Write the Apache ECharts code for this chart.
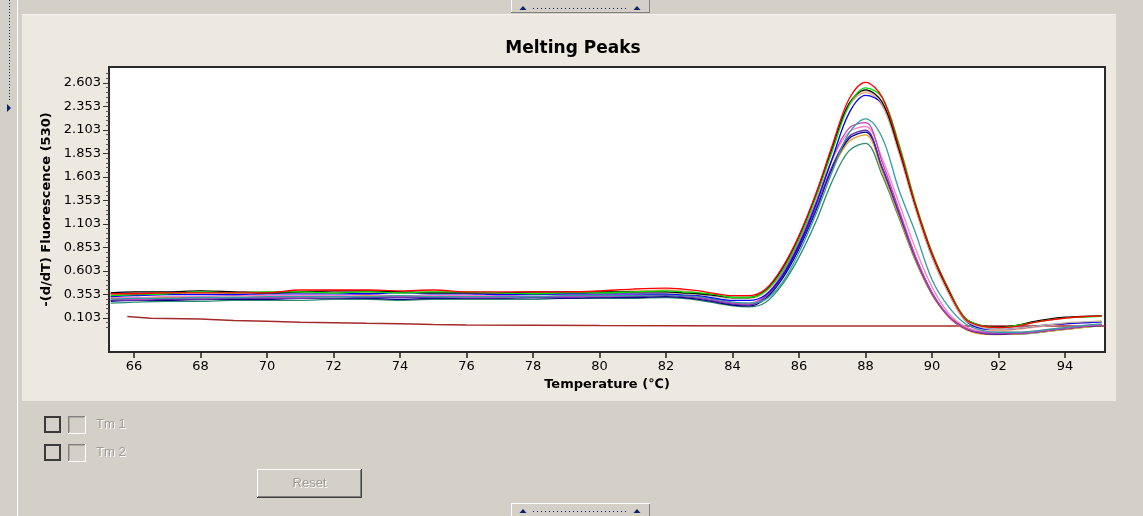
<!DOCTYPE html>
<html>
<head>
<meta charset="utf-8">
<title>Melting Peaks</title>
<script src="https://cdn.jsdelivr.net/npm/echarts@6/dist/echarts.min.js"></script>
<style>
  html, body { margin: 0; padding: 0; background: #D4D0C8; }
  #chart { width: 1143px; height: 516px; }
</style>
</head>
<body>
<div id="chart"></div>
<script>
// Temperature grid (°C) shared by the sample curves
const temps = [65.3,66,67,68,69,70,71,72,73,74,75,76,77,78,79,80,81,82,
  82.5,83,83.5,84,84.5,
  85,85.5,86,86.5,87,87.5,88,88.5,89,89.5,90,90.5,91,91.5,
  92,92.5,93,93.5,94,94.5,95.1];

// -(d/dT) fluorescence per sample
const sRed = [0.36,0.36,0.37,0.37,0.37,0.37,0.40,0.40,0.40,0.39,0.40,0.38,0.38,0.38,0.38,0.39,0.41,0.42,
  0.41,0.39,0.36,0.34,0.34,
  0.41,0.64,0.98,1.42,1.94,2.43,2.61,2.45,1.93,1.31,0.79,0.40,0.09,0.015,
  0.00,0.01,0.05,0.08,0.10,0.115,0.125];
const sGreen = [0.34,0.35,0.36,0.38,0.37,0.38,0.38,0.37,0.38,0.37,0.38,0.38,0.37,0.36,0.37,0.37,0.38,0.39,
  0.38,0.37,0.35,0.32,0.32,
  0.39,0.60,0.94,1.38,1.88,2.36,2.55,2.45,1.96,1.33,0.80,0.41,0.10,0.02,
  0.00,0.02,0.05,0.08,0.10,0.11,0.12];
const sBlack = [0.37,0.38,0.38,0.39,0.38,0.37,0.38,0.39,0.39,0.38,0.37,0.37,0.37,0.38,0.38,0.38,0.38,0.38,
  0.37,0.36,0.34,0.32,0.32,
  0.40,0.63,0.97,1.40,1.91,2.38,2.53,2.40,1.90,1.30,0.78,0.39,0.10,0.02,
  0.005,0.02,0.06,0.09,0.11,0.12,0.125];
const sTan = [0.35,0.36,0.37,0.37,0.37,0.37,0.37,0.37,0.38,0.37,0.37,0.37,0.37,0.37,0.38,0.37,0.37,0.37,
  0.36,0.35,0.33,0.31,0.32,
  0.41,0.64,0.98,1.42,1.92,2.38,2.52,2.38,1.87,1.27,0.75,0.37,0.08,0.00,
  -0.02,-0.01,0.01,0.03,0.05,0.06,0.07];
const sBlue = [0.33,0.34,0.35,0.35,0.35,0.36,0.36,0.36,0.36,0.37,0.36,0.36,0.35,0.35,0.36,0.36,0.36,0.36,
  0.35,0.34,0.31,0.29,0.29,
  0.35,0.55,0.88,1.30,1.80,2.28,2.47,2.38,1.90,1.29,0.77,0.38,0.08,-0.01,
  -0.02,-0.01,0.01,0.03,0.04,0.05,0.06];
const sSalmon = [0.36,0.37,0.37,0.37,0.38,0.38,0.38,0.38,0.37,0.38,0.38,0.37,0.37,0.37,0.37,0.38,0.39,0.40,
  0.39,0.37,0.34,0.31,0.31,
  0.38,0.61,0.95,1.38,1.89,2.36,2.50,2.36,1.86,1.26,0.74,0.36,0.07,-0.01,
  -0.03,-0.02,0.00,0.02,0.04,0.05,0.06];
const sTeal = [0.30,0.31,0.31,0.32,0.32,0.33,0.33,0.33,0.33,0.34,0.33,0.33,0.33,0.33,0.34,0.34,0.34,0.35,
  0.34,0.33,0.30,0.27,0.26,
  0.30,0.48,0.80,1.20,1.66,2.07,2.22,2.02,1.47,1.01,0.51,0.22,0.04,-0.03,
  -0.05,-0.05,-0.04,-0.02,0.00,0.02,0.04];
const sMagenta = [0.30,0.30,0.31,0.31,0.32,0.32,0.32,0.33,0.33,0.33,0.33,0.32,0.32,0.33,0.33,0.33,0.34,0.35,
  0.34,0.32,0.29,0.26,0.25,
  0.34,0.57,0.90,1.32,1.80,2.12,2.18,1.76,1.26,0.76,0.37,0.12,-0.01,-0.05,
  -0.06,-0.06,-0.05,-0.03,-0.01,0.01,0.03];
const sPurple = [0.29,0.29,0.30,0.30,0.31,0.31,0.31,0.31,0.32,0.32,0.32,0.32,0.32,0.32,0.32,0.33,0.33,0.34,
  0.33,0.31,0.28,0.25,0.24,
  0.33,0.55,0.86,1.26,1.72,2.03,2.10,1.70,1.22,0.74,0.36,0.12,-0.01,-0.06,
  -0.07,-0.065,-0.05,-0.03,-0.01,0.01,0.03];
const sNavy = [0.28,0.29,0.29,0.30,0.30,0.30,0.31,0.31,0.31,0.30,0.31,0.31,0.31,0.32,0.31,0.32,0.32,0.33,
  0.32,0.30,0.27,0.24,0.23,
  0.31,0.52,0.84,1.24,1.70,2.01,2.08,1.70,1.23,0.75,0.37,0.12,-0.01,-0.06,
  -0.07,-0.06,-0.05,-0.03,-0.01,0.01,0.02];
const sOrange = [0.31,0.31,0.32,0.32,0.32,0.32,0.33,0.33,0.34,0.33,0.33,0.34,0.33,0.33,0.33,0.33,0.34,0.35,
  0.34,0.32,0.29,0.26,0.25,
  0.32,0.54,0.85,1.24,1.68,1.98,2.05,1.66,1.19,0.72,0.35,0.11,-0.02,-0.07,
  -0.075,-0.07,-0.055,-0.04,-0.02,0.00,0.02];
const sPink = [0.32,0.32,0.33,0.33,0.34,0.34,0.34,0.34,0.35,0.34,0.34,0.34,0.34,0.35,0.35,0.35,0.35,0.36,
  0.35,0.33,0.30,0.27,0.26,
  0.35,0.58,0.91,1.33,1.79,2.08,2.14,1.80,1.33,0.84,0.43,0.15,0.01,-0.04,
  -0.05,-0.05,-0.04,-0.02,0.00,0.02,0.03];
const sDarkTeal = [0.26,0.27,0.28,0.28,0.29,0.29,0.29,0.30,0.30,0.29,0.30,0.30,0.30,0.30,0.31,0.31,0.31,0.32,
  0.31,0.29,0.26,0.23,0.22,
  0.27,0.46,0.75,1.12,1.56,1.88,1.96,1.62,1.17,0.71,0.35,0.12,0.00,-0.06,
  -0.07,-0.07,-0.06,-0.04,-0.02,0.00,0.02];

// No-template control
const ctrlTemps  = [65.8,66.5,68,69,70,71,72,73,74,75,76,78,80,85,90,95.2];
const ctrlValues = [0.117,0.100,0.090,0.075,0.066,0.057,0.052,0.045,0.040,0.033,0.028,0.024,0.021,0.018,0.018,0.018];

// Axis ticks
const xTicks = [66,68,70,72,74,76,78,80,82,84,86,88,90,92,94];
const yTicks = [0.103,0.353,0.603,0.853,1.103,1.353,1.603,1.853,2.103,2.353,2.603];

// Drawing order: lower peaks first, tallest last
const samples = [
  { name: 'S13', color: '#2E8B70', values: sDarkTeal },
  { name: 'S11', color: '#E0A020', values: sOrange },
  { name: 'S10', color: '#000080', values: sNavy },
  { name: 'S9',  color: '#5A2AB0', values: sPurple },
  { name: 'S12', color: '#FF7FC0', values: sPink },
  { name: 'S8',  color: '#C040C0', values: sMagenta },
  { name: 'S7',  color: '#2FA0A0', values: sTeal },
  { name: 'S6',  color: '#F4A080', values: sSalmon },
  { name: 'S5',  color: '#0000FF', values: sBlue },
  { name: 'S4',  color: '#C8B496', values: sTan },
  { name: 'S3',  color: '#000000', values: sBlack },
  { name: 'S2',  color: '#00DD00', values: sGreen },
  { name: 'S1',  color: '#FF0000', values: sRed }
];

// Minor y ticks every 0.05 between the labelled ticks
const yMinor = [];
for (let v = 0.003; v < 2.72; v += 0.05) {
  const r = Math.round(v * 1000) / 1000;
  if (!yTicks.some(t => Math.abs(t - r) < 1e-6)) yMinor.push(r);
}

const GRAY = '#D4D0C8';
const NAVY = '#0A246A';
const FONT = 'DejaVu Sans';
const UI_FONT = 'Liberation Sans';
const FRAME = '#2a2a2a';

const series = samples.map(s => ({
  name: s.name,
  type: 'line',
  data: temps.map((t, i) => [t, s.values[i]]),
  showSymbol: false,
  smooth: 0.35,
  lineStyle: { color: s.color, width: 1.3 },
  itemStyle: { color: s.color },
  silent: true
}));
series.unshift({
  name: 'NTC',
  type: 'line',
  data: ctrlTemps.map((t, i) => [t, ctrlValues[i]]),
  showSymbol: false,
  lineStyle: { color: '#A52A2A', width: 1.5 },
  silent: true
});

// Window chrome: frame strips, splitter handles, Tm check boxes, Reset button
function handle(y, up) {
  const ty = y + 6;
  return [
    { type: 'rect', shape: { x: 511, y: y, width: 139, height: 13 }, style: { fill: GRAY } },
    { type: 'line', shape: { x1: 511.5, y1: y, x2: 511.5, y2: y + 13 }, style: { stroke: '#ffffff' } },
    { type: 'line', shape: { x1: 649.5, y1: y, x2: 649.5, y2: y + 13 }, style: { stroke: '#808080' } },
    up ? { type: 'line', shape: { x1: 511, y1: y + 12.5, x2: 650, y2: y + 12.5 }, style: { stroke: '#808080' } }
       : { type: 'line', shape: { x1: 511, y1: y + 0.5, x2: 650, y2: y + 0.5 }, style: { stroke: '#ffffff' } },
    { type: 'polygon', shape: { points: [[519.5, ty + 4], [523, ty], [526.5, ty + 4]] }, style: { fill: NAVY } },
    { type: 'polygon', shape: { points: [[633.5, ty + 4], [637, ty], [640.5, ty + 4]] }, style: { fill: NAVY } },
    { type: 'line', shape: { x1: 533, y1: ty + 2.5, x2: 628, y2: ty + 2.5 }, style: { stroke: NAVY, lineDash: [1, 3], lineWidth: 1 } }
  ];
}

function checkRow(y, label) {
  return [
    { type: 'rect', shape: { x: 45, y: y, width: 15, height: 15 }, style: { fill: 'none', stroke: '#3a3a3a', lineWidth: 2 } },
    { type: 'line', shape: { x1: 68.5, y1: y + 16, x2: 68.5, y2: y - 0.5 }, style: { stroke: '#808080' } },
    { type: 'line', shape: { x1: 68, y1: y - 0.5, x2: 85, y2: y - 0.5 }, style: { stroke: '#808080' } },
    { type: 'line', shape: { x1: 69.5, y1: y + 15, x2: 69.5, y2: y + 0.5 }, style: { stroke: '#b0aca4' } },
    { type: 'line', shape: { x1: 69, y1: y + 0.5, x2: 84, y2: y + 0.5 }, style: { stroke: '#b0aca4' } },
    { type: 'line', shape: { x1: 85.5, y1: y - 1, x2: 85.5, y2: y + 16.5 }, style: { stroke: '#ffffff' } },
    { type: 'line', shape: { x1: 68, y1: y + 16.5, x2: 86, y2: y + 16.5 }, style: { stroke: '#ffffff' } },
    { type: 'text', x: 97, y: y + 8, style: { text: label, fill: '#ffffff', font: '13px ' + UI_FONT, verticalAlign: 'middle' } },
    { type: 'text', x: 96, y: y + 7, style: { text: label, fill: '#A09C94', font: '13px ' + UI_FONT, verticalAlign: 'middle' } }
  ];
}

const chrome = [
  { type: 'rect', shape: { x: 0, y: 0, width: 1143, height: 14 }, style: { fill: GRAY } },
  { type: 'rect', shape: { x: 0, y: 0, width: 22, height: 516 }, style: { fill: GRAY } },
  { type: 'rect', shape: { x: 1116, y: 0, width: 27, height: 516 }, style: { fill: GRAY } },
  { type: 'rect', shape: { x: 0, y: 401, width: 1143, height: 115 }, style: { fill: GRAY } },
  { type: 'line', shape: { x1: 22, y1: 14.5, x2: 1116, y2: 14.5 }, style: { stroke: '#f4f2ee' } },
  { type: 'line', shape: { x1: 17.5, y1: 0, x2: 17.5, y2: 516 }, style: { stroke: '#ffffff' } },
  { type: 'line', shape: { x1: 9.5, y1: 0, x2: 9.5, y2: 100 }, style: { stroke: NAVY, lineDash: [1, 2] } },
  { type: 'polygon', shape: { points: [[7, 104], [11, 108], [7, 112]] }, style: { fill: NAVY } }
]
  .concat(handle(0, true))
  .concat(handle(503, false))
  .concat(checkRow(417, 'Tm 1'))
  .concat(checkRow(445, 'Tm 2'))
  .concat([
    { type: 'rect', shape: { x: 257, y: 469, width: 105, height: 29 }, style: { fill: GRAY } },
    { type: 'line', shape: { x1: 257.5, y1: 469, x2: 257.5, y2: 498 }, style: { stroke: '#ffffff' } },
    { type: 'line', shape: { x1: 257, y1: 469.5, x2: 362, y2: 469.5 }, style: { stroke: '#ffffff' } },
    { type: 'line', shape: { x1: 361.5, y1: 469, x2: 361.5, y2: 498 }, style: { stroke: '#404040' } },
    { type: 'line', shape: { x1: 257, y1: 497.5, x2: 362, y2: 497.5 }, style: { stroke: '#404040' } },
    { type: 'line', shape: { x1: 360.5, y1: 470, x2: 360.5, y2: 497 }, style: { stroke: '#808080' } },
    { type: 'line', shape: { x1: 258, y1: 496.5, x2: 361, y2: 496.5 }, style: { stroke: '#808080' } },
    { type: 'text', x: 310.5, y: 484.5, style: { text: 'Reset', fill: '#ffffff', font: '13px ' + UI_FONT, align: 'center', verticalAlign: 'middle' } },
    { type: 'text', x: 309.5, y: 483.5, style: { text: 'Reset', fill: '#A09C94', font: '13px ' + UI_FONT, align: 'center', verticalAlign: 'middle' } }
  ]);

const chart = echarts.init(document.getElementById('chart'), null, { renderer: 'canvas' });
chart.setOption({
  animation: false,
  backgroundColor: '#EEE9E0',
  title: {
    text: 'Melting Peaks',
    left: 568,
    textAlign: 'center',
    top: 35,
    textStyle: { fontFamily: FONT, fontWeight: 'bold', fontSize: 17, color: '#000' }
  },
  grid: {
    left: 109, right: 38, top: 67, bottom: 164,
    show: true, backgroundColor: '#ffffff', borderColor: FRAME, borderWidth: 2,
    containLabel: false
  },
  xAxis: {
    type: 'value',
    min: 65.25, max: 95.2,
    position: 'bottom',
    name: 'Temperature (℃)',
    nameLocation: 'middle',
    nameGap: 26,
    nameTextStyle: { fontFamily: FONT, fontWeight: 'bold', fontSize: 13, color: '#000' },
    axisLine: { show: true, onZero: false, lineStyle: { color: FRAME, width: 2 } },
    axisTick: { show: true, length: 6, customValues: xTicks, lineStyle: { color: '#222', width: 1.5 } },
    axisLabel: { customValues: xTicks, margin: 8, fontFamily: FONT, fontSize: 13, color: '#000' },
    splitLine: { show: false }
  },
  yAxis: [
    {
      type: 'value',
      min: -0.26, max: 2.773,
      position: 'left',
      name: '-(d/dT) Fluorescence (530)',
      nameLocation: 'middle',
      nameGap: 54,
      nameTextStyle: { fontFamily: FONT, fontWeight: 'bold', fontSize: 13, color: '#000' },
      axisLine: { show: true, onZero: false, lineStyle: { color: FRAME, width: 2 } },
      axisTick: { show: true, length: 6, customValues: yTicks, lineStyle: { color: '#333' } },
      axisLabel: {
        customValues: yTicks, margin: 8, fontFamily: FONT, fontSize: 13, color: '#000',
        formatter: v => v.toFixed(3)
      },
      splitLine: { show: false }
    },
    {
      type: 'value',
      min: -0.26, max: 2.773,
      position: 'left',
      axisLine: { show: false, onZero: false },
      axisTick: { show: true, length: 3, customValues: yMinor, lineStyle: { color: '#555' } },
      axisLabel: { show: false },
      splitLine: { show: false }
    }
  ],
  series: series,
  graphic: { elements: chrome }
});
</script>
</body>
</html>
